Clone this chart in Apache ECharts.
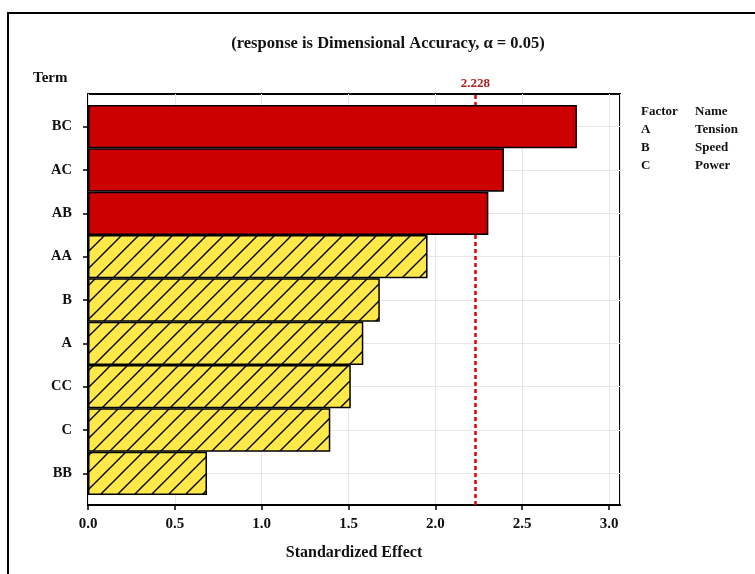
<!DOCTYPE html>
<html lang="en">
<head>
    <meta charset="UTF-8">
    <title>Pareto Chart of the Standardized Effects</title>
    <script src="https://cdn.jsdelivr.net/npm/echarts@6/dist/echarts.min.js"></script>
    <style>
        html, body { margin: 0; padding: 0; background: #fff; }
        .chart { width: 755px; height: 574px; }
    </style>
</head>
<body>
<div class="chart"></div>
<script>
    // terms, top to bottom
    let terms = ['BC', 'AC', 'AB', 'AA', 'B', 'A', 'CC', 'C', 'BB'];
    let effects = [2.815, 2.395, 2.305, 1.955, 1.68, 1.585, 1.513, 1.395, 0.685];
    let critical = 2.228;
    let factors = ['A', 'B', 'C'];
    let factorNames = ['Tension', 'Speed', 'Power'];

    const FONT = '"Liberation Serif", "Times New Roman", serif';

    // yellow tile with "/" hatching
    function hatch() {
        let c = document.createElement('canvas');
        let s = 17;
        c.width = s; c.height = s;
        let ctx = c.getContext('2d');
        ctx.fillStyle = '#FFE84A';
        ctx.fillRect(0, 0, s, s);
        ctx.strokeStyle = '#000';
        ctx.lineWidth = 1.4;
        ctx.beginPath();
        ctx.moveTo(-2, s + 2); ctx.lineTo(s + 2, -2);
        ctx.moveTo(-2, 2); ctx.lineTo(2, -2);
        ctx.moveTo(s - 2, s + 2); ctx.lineTo(s + 2, s - 2);
        ctx.stroke();
        return c;
    }
    let pattern = {image: hatch(), repeat: 'repeat'};

    let chart = echarts.init(document.querySelector('.chart'));

    let xMax = 3.063;

    let graphics = [
        {
            type: 'rect',
            shape: {x: 8, y: 13, width: 800, height: 620},
            style: {fill: 'none', stroke: '#000', lineWidth: 2},
            silent: true
        },
        {
            type: 'text',
            x: 388, y: 44,
            style: {
                text: '(response is Dimensional Accuracy, α = 0.05)',
                font: 'bold 16.5px ' + FONT, fill: '#111',
                align: 'center', verticalAlign: 'middle'
            }
        },
        {
            type: 'text',
            x: 33, y: 78,
            style: {text: 'Term', font: 'bold 15px ' + FONT, fill: '#111', verticalAlign: 'middle'}
        },
        {
            type: 'text',
            x: 641, y: 112,
            style: {text: 'Factor', font: 'bold 13px ' + FONT, fill: '#111', verticalAlign: 'middle'}
        },
        {
            type: 'text',
            x: 695, y: 112,
            style: {text: 'Name', font: 'bold 13px ' + FONT, fill: '#111', verticalAlign: 'middle'}
        }
    ];
    factors.forEach((f, i) => {
        graphics.push({
            type: 'text', x: 641, y: 130 + i * 18,
            style: {text: f, font: 'bold 13px ' + FONT, fill: '#111', verticalAlign: 'middle'}
        });
        graphics.push({
            type: 'text', x: 695, y: 130 + i * 18,
            style: {text: factorNames[i], font: 'bold 13px ' + FONT, fill: '#111', verticalAlign: 'middle'}
        });
    });

    let option = {
        animation: false,
        backgroundColor: '#fff',
        graphic: graphics,
        grid: [
            // frame grid
            {left: 88, top: 94, right: 135, bottom: 69, show: true, borderColor: '#000', borderWidth: 2, backgroundColor: 'transparent'},
            // bar grid
            {left: 88, top: 105, right: 135, bottom: 79}
        ],
        xAxis: [
            {
                gridIndex: 0,
                type: 'value',
                min: 0,
                max: xMax,
                interval: 0.5,
                name: 'Standardized Effect',
                nameLocation: 'middle',
                nameGap: 40,
                nameTextStyle: {fontFamily: FONT, fontWeight: 'bold', fontSize: 16, color: '#111'},
                axisLine: {show: true, lineStyle: {color: '#000', width: 2}},
                axisTick: {show: true, length: 5, lineStyle: {color: '#000', width: 1.5}},
                axisLabel: {
                    fontFamily: FONT, fontWeight: 'bold', fontSize: 15, color: '#111', margin: 12,
                    showMaxLabel: false,
                    formatter: v => v.toFixed(1)
                },
                splitLine: {show: true, lineStyle: {color: '#e6e6e6', width: 1}}
            },
            {
                gridIndex: 1,
                type: 'value',
                min: 0,
                max: xMax,
                show: false
            }
        ],
        yAxis: [
            {
                gridIndex: 0,
                type: 'value',
                min: 0,
                max: 1,
                show: false
            },
            {
                gridIndex: 1,
                type: 'category',
                data: terms,
                inverse: true,
                axisLine: {show: false},
                axisTick: {show: true, alignWithLabel: true, length: 5, lineStyle: {color: '#000', width: 1.5}},
                axisLabel: {fontFamily: FONT, fontWeight: 'bold', fontSize: 14.5, color: '#111', margin: 16},
                splitLine: {show: false}
            }
        ],
        series: [
            {
                // horizontal grid lines at each term
                type: 'line',
                xAxisIndex: 1,
                yAxisIndex: 1,
                data: [],
                z: 1,
                silent: true,
                markLine: {
                    silent: true,
                    z: 1,
                    symbol: ['none', 'none'],
                    label: {show: false},
                    lineStyle: {color: '#e6e6e6', width: 1, type: 'solid'},
                    data: terms.map((t, i) => ({yAxis: i}))
                }
            },
            {
                // critical value line
                type: 'line',
                xAxisIndex: 0,
                yAxisIndex: 0,
                data: [],
                z: 2,
                silent: true,
                markLine: {
                    silent: true,
                    z: 2,
                    symbol: ['none', 'none'],
                    lineStyle: {color: '#E00000', width: 2.5, type: [4, 3]},
                    label: {
                        show: true,
                        position: 'end',
                        distance: 4,
                        formatter: String(critical),
                        fontFamily: FONT, fontWeight: 'bold', fontSize: 13, color: '#B01E1E'
                    },
                    data: [{xAxis: critical}]
                }
            },
            {
                type: 'bar',
                xAxisIndex: 1,
                yAxisIndex: 1,
                z: 3,
                barCategoryGap: 0,
                data: effects.map(v => ({
                    value: v,
                    itemStyle: {
                        color: v > critical ? '#CC0000' : pattern,
                        borderColor: '#000',
                        borderWidth: 1.5
                    }
                }))
            }
        ]
    };

    chart.setOption(option);
</script>
</body>
</html>
